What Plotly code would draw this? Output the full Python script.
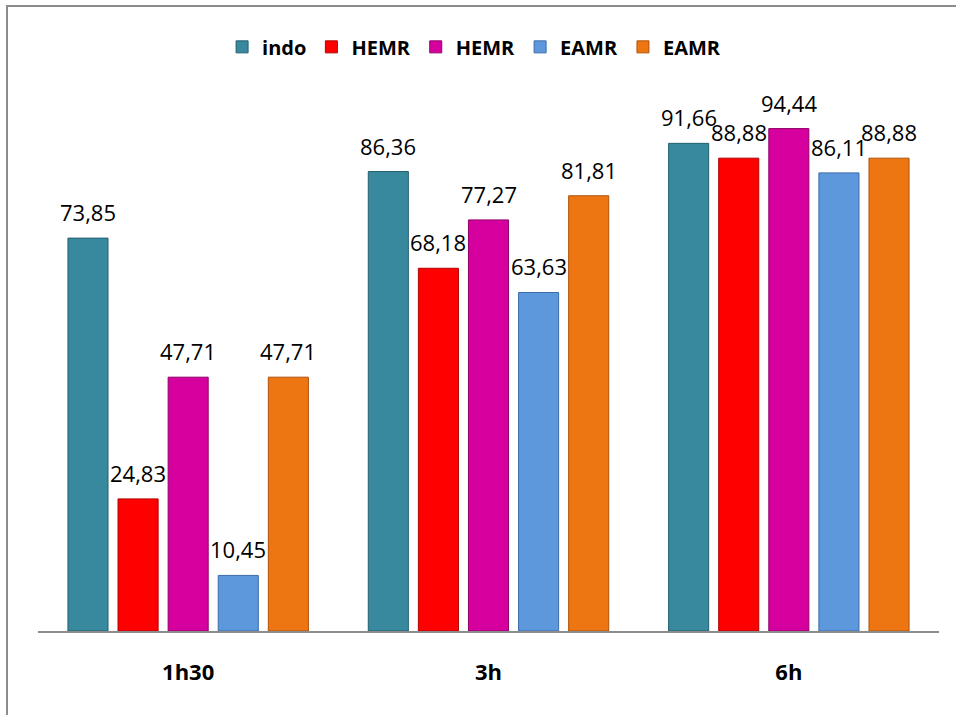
import plotly.graph_objects as go

categories = ["1h30", "3h", "6h"]
series_names = ["indo", "HEMR", "HEMR", "EAMR", "EAMR"]
indo = [73.85, 86.36, 91.66]
hemr_a = [24.83, 68.18, 88.88]
hemr_b = [47.71, 77.27, 94.44]
eamr_a = [10.45, 63.63, 86.11]
eamr_b = [47.71, 81.81, 88.88]
series_values = [indo, hemr_a, hemr_b, eamr_a, eamr_b]

colors = ["#38899E", "#FF0000", "#D6009E", "#5E98DC", "#EE7612"]
edge_colors = ["#22606F", "#B00000", "#900068", "#3C6CA8", "#B0520A"]

BARGAP = 0.166
BARGROUPGAP = 0.2

fig = go.Figure()
for name, vals, c, ec in zip(series_names, series_values, colors, edge_colors):
    fig.add_trace(go.Bar(
        x=categories, y=vals, name=name,
        marker=dict(color=c, line=dict(color=ec, width=1)),
        hoverinfo="y",
    ))

n = len(series_values)
slot = (1 - BARGAP) / n
annotations = []
for i, vals in enumerate(series_values):
    for k, v in enumerate(vals):
        annotations.append(dict(
            x=k + (i - (n - 1) / 2) * slot, y=v, xref="x", yref="y",
            text=f"{v:.2f}".replace(".", ","), showarrow=False,
            yanchor="middle", yshift=26,
            font=dict(family="Open Sans", size=22, color="#000000"),
        ))

# plot area geometry in pixels (for the outer frame)
L, R, T, B = 38, 17, 99, 84
W, H = 956, 715
pw, ph = W - L - R, H - T - B
fx0 = (7 - L) / pw
fy1 = 1 + (T - 6) / ph

fig.update_layout(
    width=W, height=H,
    margin=dict(l=L, r=R, t=T, b=B),
    paper_bgcolor="white", plot_bgcolor="white",
    barmode="group", bargap=BARGAP, bargroupgap=BARGROUPGAP,
    showlegend=True,
    legend=dict(orientation="h", x=0.484, xanchor="center", y=1.098, yanchor="middle",
                font=dict(family="Open Sans", size=20, color="#000000", weight="bold"),
                itemwidth=30, traceorder="normal", bgcolor="rgba(0,0,0,0)"),
    xaxis=dict(type="category", showline=True, linecolor="#8C8C8C", linewidth=2,
               ticks="", showgrid=False, zeroline=False,
               tickfont=dict(family="Open Sans", size=22, color="#000000", weight="bold"),
               ticklabelstandoff=21),
    yaxis=dict(range=[0, 100], visible=False, showgrid=False, zeroline=False),
    annotations=annotations,
    shapes=[dict(type="rect", xref="paper", yref="paper",
                 x0=fx0, x1=1.2, y0=-0.3, y1=fy1,
                 line=dict(color="#8C8C8C", width=2), layer="below")],
)

fig.write_html("out.html")
